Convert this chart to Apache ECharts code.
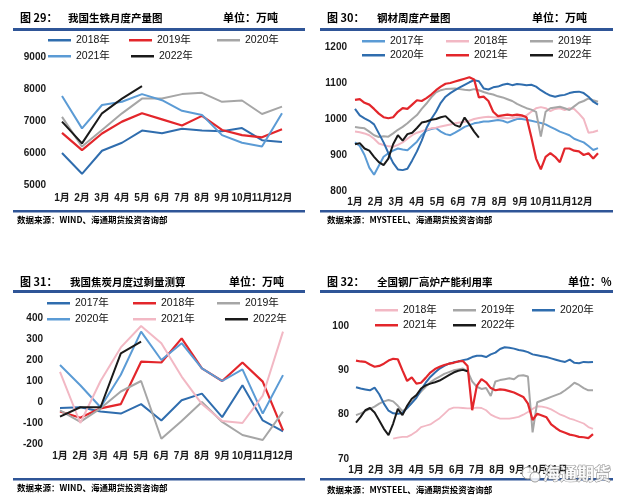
<!DOCTYPE html>
<html><head><meta charset="utf-8">
<script src="https://cdn.jsdelivr.net/npm/echarts@6/dist/echarts.min.js"></script>
<style>html,body{margin:0;padding:0;background:#fff}#c{width:620px;height:503px}</style>
</head><body><div id="c"></div>
<script>
// ---------- shared tick labels ----------
const months = ['1月','2月','3月','4月','5月','6月','7月','8月','9月','10月','11月','12月'];
const monthPos = [0, 4.33, 8.67, 13, 17.33, 21.67, 26, 30.33, 34.67, 39, 43.33, 47.67]; // week index of month labels

// ---------- 图29 我国生铁月度产量 (万吨) ----------
const p1_2018 = [6000, 5350, 6070, 6320, 6700, 6620, 6760, 6700, 6680, 6780, 6400, 6340];
const p1_2019 = [6630, 6090, 6610, 6980, 7240, 7050, 6860, 7160, 6720, 6560, 6490, 6740];
const p1_2020 = [7130, 6200, 6720, 7240, 7700, 7700, 7840, 7880, 7600, 7640, 7220, 7450];
const p1_2021 = [7780, 6770, 7500, 7600, 7840, 7650, 7320, 7190, 6560, 6320, 6200, 7240];
const p1_2022 = [6980, 6300, 7240, 7700, 8090];

// ---------- 图30 钢材周度产量 (万吨, weekly) ----------
const p2_2017 = [935,925,900,865,845,870,895,905,912,918,915,913,925,937,955,968,972,975,965,958,955,962,970,978,983,988,990,993,993,995,997,995,990,995,1000,1000,998,995,992,989,985,978,972,965,960,955,945,940,935,925,914,919];
const p2_2018 = [965,963,960,955,945,932,928,924,923,928,935,945,955,962,966,970,974,976,979,982,985,988,990,992,995,1000,1003,1005,1006,1005,1004,1003,1002,1003,1005,1006,1010,1020,1030,1033,1030,1022,1028,1030,1025,1030,1028,1015,1000,962,964,968];
const p2_2019 = [978,976,974,965,955,950,952,951,960,970,978,988,1000,1011,1028,1043,1060,1074,1080,1083,1084,1085,1083,1081,1080,1083,1080,1075,1071,1068,1063,1060,1055,1050,1042,1036,1030,1026,1020,951,1020,1030,1032,1034,1030,1025,1035,1045,1050,1057,1052,1048];
const p2_2020 = [1028,1010,1002,995,985,960,935,905,878,860,858,862,885,910,940,975,1000,1020,1045,1062,1072,1080,1088,1095,1102,1108,1105,1085,1082,1088,1090,1095,1098,1094,1097,1096,1094,1095,1090,1080,1072,1065,1062,1065,1067,1072,1075,1076,1072,1062,1048,1040];
const p2_2021 = [1053,1055,1045,1040,1028,1015,1005,1002,1005,1020,1030,1028,1040,1052,1050,1058,1068,1080,1090,1098,1100,1104,1108,1112,1116,1110,1060,1062,1050,1020,1008,1010,1012,1010,1012,1010,1005,950,890,860,895,905,895,880,918,918,912,910,900,905,890,905];
const p2_2022 = [930,933,918,912,895,880,872,890,930,955,940,958,962,975,990,993,998,1000,1005,1008,995,983,978,1004,985,965,948];

// ---------- 图31 我国焦炭月度过剩量测算 (万吨) ----------
const p3_2017 = [-28, -25, -45, -55, -10, -88, 8, 40, -72, 80, -88, -140];
const p3_2018 = [-45, -75, -30, -10, 192, 188, 303, 160, 100, 188, 97, -135];
const p3_2019 = [-40, -95, -30, 50, 100, -175, -90, 0, -95, -157, -181, -46];
const p3_2020 = [176, 80, -25, 130, 335, 200, 280, 160, 100, 155, -55, 128];
const p3_2021 = [144, -100, 100, 260, 362, 280, 121, -10, -90, -100, 30, 335];
const p3_2022 = [-70, -25, -25, 232, 287];

// ---------- 图32 全国钢厂高炉产能利用率 (%, weekly) ----------
const p4_2018 = [null,null,null,null,null,null,null,null,74.6,74.8,75.0,75.0,75.5,76.2,77.2,77.5,77.8,78.5,79.2,80.2,81.2,81.6,81.6,81.5,81.4,81.4,81.6,81.5,81.0,80.0,79.5,79.1,79.1,79.1,79.3,79.5,80.0,80.6,81.3,81.9,81.8,81.6,81.2,80.6,80.0,79.6,79.1,78.8,78.4,78.0,77.2,76.8];
const p4_2019 = [79.9,80.3,80.8,81.3,81.8,82.5,83.0,83.3,83.0,82.0,80.8,81.5,82.8,84.0,85.2,86.3,87.3,88.0,88.6,89.2,89.6,90.0,90.2,90.4,89.8,87.5,86.3,85.8,86.0,84.2,87.5,87.8,88.0,88.2,88.0,88.8,88.9,88.6,76.0,82.8,83.2,83.6,84.0,84.4,84.8,85.5,86.3,87.2,86.7,86.0,85.5,85.5];
const p4_2020 = [86.2,85.9,85.7,85.5,86.1,84.6,82.5,80.9,80.3,80.2,80.4,81.5,82.6,83.8,85.6,87.2,88.5,89.5,90.4,91.0,91.5,91.8,92.0,92.3,92.5,93.0,93.3,93.3,93.0,93.6,94.0,94.8,95.2,95.1,94.9,94.6,94.4,94.1,93.6,93.4,93.2,93.0,92.7,92.4,92.1,91.9,92.4,91.7,91.6,91.9,91.8,91.9];
const p4_2021 = [92.2,92.0,91.9,91.3,90.8,91.0,91.5,92.2,92.6,92.5,90.0,87.6,88.4,87.0,87.2,88.3,89.5,90.3,90.8,91.2,91.5,91.7,92.0,92.1,91.0,81.0,86.5,88.0,87.3,86.0,85.5,85.7,85.6,85.3,85.0,84.5,84.0,82.5,78.8,80.2,79.8,79.4,77.8,77.0,76.3,75.9,75.5,75.3,75.0,74.9,74.7,75.6];
const p4_2022 = [78.2,79.5,81.0,81.5,80.5,78.7,76.8,75.4,78.0,81.3,79.9,82.0,83.6,84.4,85.9,86.6,87.0,87.3,87.7,88.3,88.9,89.5,89.9,90.1,89.8];

// ---------- styling ----------
const C = {dblue:'#2F6DAE', mblue:'#5B9BD5', red:'#E3262B', gray:'#A6A6A6', pink:'#F2B8C4', black:'#1A1A1A', rule:'#2F5597'};
const NUMF = '"Liberation Sans", Arial, "Noto Sans CJK SC", sans-serif';
const CJKF = '"Noto Sans CJK SC", sans-serif';
const lab = {fontSize:10, fontWeight:'bold', color:'#1a1a1a', fontFamily:NUMF};
const hidden = {axisLine:{show:false}, axisTick:{show:false}, splitLine:{show:false}};

function yAx(gi, min, max, interval, margin){
  return Object.assign({type:'value', gridIndex:gi, min, max, interval,
    axisLabel:Object.assign({margin, formatter:v=>String(v)}, lab)}, hidden);
}
function xCat(gi, margin){
  return Object.assign({type:'category', gridIndex:gi, data:months, boundaryGap:false,
    axisLabel:Object.assign({margin, interval:0}, lab)}, hidden);
}
function xWeek(gi, margin){
  return Object.assign({type:'value', gridIndex:gi, min:0, max:51,
    axisLabel:Object.assign({margin, customValues:monthPos,
      formatter:v=>{const k=monthPos.findIndex(p=>Math.abs(p-v)<0.01); return k<0?'':months[k];}}, lab)}, hidden);
}
function ln(panel, yr, data, color, width, ai, weekly, z){
  return {type:'line', name:panel+'|'+yr, xAxisIndex:ai, yAxisIndex:ai,
    data: weekly ? data.map((v,i)=>[i,v]) : data,
    symbol:'none', showSymbol:false, silent:true, z:z||2,
    lineStyle:{color, width}, itemStyle:{color}};
}
function lg(name, left, cy){
  return {data:[name], left, top:cy-7, padding:0, itemWidth:23, itemHeight:2.5, icon:'rect', selectedMode:false,
    formatter:n=>n.split('|')[1], textStyle:{fontSize:10.5, color:'#111', fontFamily:NUMF}};
}
function txt(t, x, y, size, weight){
  return {type:'text', silent:true, style:{text:t, x, y, fill:'#000',
    font:(weight||'bold')+' '+size+'px '+CJKF, textVerticalAlign:'middle', verticalAlign:'middle'}};
}
function rule(x, y, w, h){ return {type:'rect', silent:true, shape:{x, y, width:w, height:h}, style:{fill:C.rule}}; }

const series = [
  ln('A','2018年',p1_2018,C.dblue,2,0),
  ln('A','2019年',p1_2019,C.red,2.2,0),
  ln('A','2020年',p1_2020,C.gray,2,0),
  ln('A','2021年',p1_2021,C.mblue,2,0),
  ln('A','2022年',p1_2022,C.black,2,0),

  ln('B','2017年',p2_2017,C.mblue,2,1,true),
  ln('B','2018年',p2_2018,C.pink,2,1,true),
  ln('B','2019年',p2_2019,C.gray,2,1,true),
  ln('B','2020年',p2_2020,C.dblue,2,1,true),
  ln('B','2021年',p2_2021,C.red,2.2,1,true),
  ln('B','2022年',p2_2022,C.black,2,1,true),

  ln('C','2017年',p3_2017,C.dblue,2,2),
  ln('C','2018年',p3_2018,C.red,2.2,2),
  ln('C','2019年',p3_2019,C.gray,2,2),
  ln('C','2020年',p3_2020,C.mblue,2,2),
  ln('C','2021年',p3_2021,C.pink,2,2),
  ln('C','2022年',p3_2022,C.black,2,2),

  ln('D','2018年',p4_2018,C.pink,1.8,3,true),
  ln('D','2019年',p4_2019,C.gray,2,3,true),
  ln('D','2020年',p4_2020,C.dblue,2,3,true),
  ln('D','2021年',p4_2021,C.red,2.2,3,true),
  ln('D','2022年',p4_2022,C.black,2,3,true)
];

const option = {
  backgroundColor:'#ffffff',
  animation:false,
  grid:[
    {left:62, top:57, width:220, height:128},
    {left:355, top:47, width:243, height:144},
    {left:60, top:318, width:223, height:126},
    {left:356, top:326, width:237, height:133}
  ],
  xAxis:[xCat(0,8), xWeek(1,6), xCat(2,7), xWeek(3,6)],
  yAxis:[yAx(0,5000,9000,1000,16), yAx(1,800,1200,100,8), yAx(2,-200,400,100,17), yAx(3,70,100,10,7)],
  legend:[
    lg('A|2018年',48,42), lg('A|2019年',129,42), lg('A|2020年',217,42),
    lg('A|2021年',48,58), lg('A|2022年',131,58),
    lg('B|2017年',362,43), lg('B|2018年',446,43), lg('B|2019年',530,43),
    lg('B|2020年',362,57), lg('B|2021年',446,57), lg('B|2022年',530,57),
    lg('C|2017年',47,305), lg('C|2018年',133,305), lg('C|2019年',217,305),
    lg('C|2020年',47,321), lg('C|2021年',133,321), lg('C|2022年',225,321),
    lg('D|2018年',375,312), lg('D|2019年',453,312), lg('D|2020年',532,312),
    lg('D|2021年',375,327), lg('D|2022年',453,327)
  ],
  graphic:[
    txt('图 29：',20,18,11), txt('我国生铁月度产量图',68,18,10.5), txt('单位：万吨',223,18,11),
    txt('图 30：',327,18,11), txt('钢材周度产量图',377,18,10.5), txt('单位：万吨',532,18,11),
    txt('图 31：',20,282,11), txt('我国焦炭月度过剩量测算',70,282,10.5), txt('单位：万吨',229,282,11),
    txt('图 32：',327,282,11), txt('全国钢厂高炉产能利用率',377,282,10.5), txt('单位：%',568,282,11),
    rule(13,28,292,3), rule(320,28,293,3), rule(13,290,292,3), rule(320,290,293,3),
    rule(13,210,292,2.5), rule(320,210,293,2.5), rule(13,478,292,2.5), rule(320,478,293,2.5),
    txt('数据来源：WIND、海通期货投资咨询部',17,220,8.5),
    txt('数据来源：MYSTEEL、海通期货投资咨询部',327,220,8.5),
    txt('数据来源：WIND、海通期货投资咨询部',17,488,8.5),
    txt('数据来源：MYSTEEL、海通期货投资咨询部',327,490,8.5),
    {type:'circle', silent:true, z:100, shape:{cx:528, cy:473, r:6}, style:{fill:'rgba(255,255,255,0.85)', stroke:'#9a9a9a', lineWidth:1}},
    {type:'circle', silent:true, z:100, shape:{cx:535, cy:477, r:5}, style:{fill:'rgba(255,255,255,0.85)', stroke:'#9a9a9a', lineWidth:1}},
    {type:'text', silent:true, z:100, style:{text:'海通期货', x:543, y:474, font:'bold 17px '+CJKF,
      fill:'rgba(255,255,255,0.9)', stroke:'#8c8c8c', lineWidth:1, textVerticalAlign:'middle', verticalAlign:'middle'}}
  ],
  series
};
const chart = echarts.init(document.getElementById('c'));
chart.setOption(option);
</script>
</body></html>
